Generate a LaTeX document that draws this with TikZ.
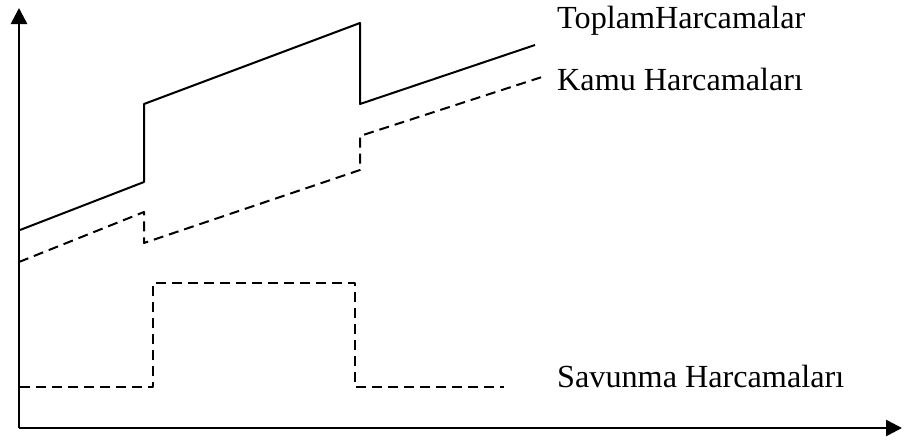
\documentclass[tikz,border=0pt]{standalone}
\usepackage{fontspec}
\setmainfont{Liberation Serif}
\usetikzlibrary{arrows.meta}
\begin{document}
\begin{tikzpicture}[x=1pt,y=-1pt,line join=round,font=\fontsize{32.2}{36}\selectfont,
	kesik/.style={line width=2pt,dash pattern=on 10pt off 6pt}]
	\def\xo{19} \def\yo{428} \def\xmax{902} \def\ymax{8}
	\useasboundingbox (0,0) rectangle (904,439);
	\draw[line width=2.6pt,-{Triangle[length=16pt,width=16pt]}] (\xo,\yo) -- (\xo,\ymax);
	\draw[line width=2.6pt,-{Triangle[length=16pt,width=16pt]}] (\xo,\yo) -- (\xmax,\yo);
	% toplam
	\draw[line width=2pt] (20,230) -- (144,182) -- (144,104) -- (360,23) -- (360,104) -- (535,45);
	% kamu
	\draw[kesik] (19,262) -- (144,212) -- (144,243) -- (360,170) -- (360,136) -- (542,77);
	% savunma
	\draw[kesik] (20,387) -- (153,387) -- (153,283) -- (355,283) -- (355,387) -- (504,387);
	\node[anchor=base west,inner sep=0] (toplam) at (557,28) {ToplamHarcamalar};
	\node[anchor=base west,inner sep=0] (kamu) at (557,90) {Kamu Harcamaları};
	\node[anchor=base west,inner sep=0] (savunma) at (557,387) {Savunma Harcamaları};
\end{tikzpicture}
\end{document}
